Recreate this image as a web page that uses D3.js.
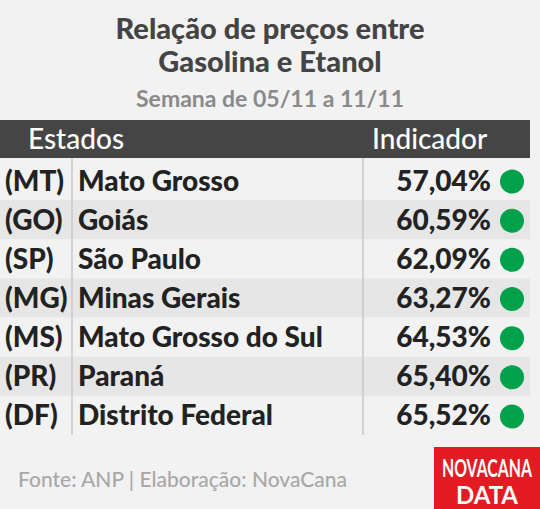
<!DOCTYPE html><html><head><meta charset="utf-8">
<script src="https://cdn.jsdelivr.net/npm/d3@7"></script>
<style>body{margin:0;background:#f2f2f2}svg{display:block}text{font-family:Lato,'Open Sans',sans-serif}</style></head><body>
<script>
const codes=["(MT)","(GO)","(SP)","(MG)","(MS)","(PR)","(DF)"];
const states=["Mato Grosso","Goiás","São Paulo","Minas Gerais","Mato Grosso do Sul","Paraná","Distrito Federal"];
const values=[57.04,60.59,62.09,63.27,64.53,65.40,65.52];
const W=540,H=509;
const svg=d3.select("body").append("svg").attr("width",W).attr("height",H);
svg.append("rect").attr("width",W).attr("height",H).attr("fill","#f2f2f2");
const y=d3.scaleBand().domain(d3.range(values.length)).range([161,435]);
svg.selectAll("rect.row").data(values).join("rect").attr("x",0).attr("width",530)
 .attr("y",(d,i)=>y(i)).attr("height",y.bandwidth()).attr("fill",(d,i)=>i%2?"#e6e6e6":"#f2f2f2");
svg.append("rect").attr("x",0).attr("y",120).attr("width",530).attr("height",38).attr("fill","#454545");
[72,363].forEach(x=>svg.append("line").attr("x1",x).attr("x2",x).attr("y1",158).attr("y2",435).attr("stroke","#c8c8c8").attr("stroke-width",1.5));
const t=(x,yy,s,size,fill,anchor="start",w=900)=>svg.append("text").attr("x",x).attr("y",yy).attr("font-size",size).attr("font-weight",w).attr("fill",fill).attr("text-anchor",anchor).text(s);
t(270,39,"Relação de preços entre",29,"#444","middle");
t(270,72,"Gasolina e Etanol",29,"#444","middle");
t(270,107,"Semana de 05/11 a 11/11",23,"#8a8a8a","middle",700);
t(28,149,"Estados",28,"#fff","start",500);
t(372,149,"Indicador",28,"#fff","start",500);
const fmt=v=>v.toFixed(2).replace(".",",")+"%";
values.forEach((v,i)=>{const cy=y(i)+y.bandwidth()/2+10;
 t(5,cy,codes[i],28,"#222");t(78,cy,states[i],28,"#222");t(491,cy,fmt(v),28,"#222","end");
 svg.append("circle").attr("cx",512).attr("cy",y(i)+y.bandwidth()/2+1).attr("r",12).attr("fill","#00a14b");});
t(18,487,"Fonte: ANP | Elaboração: NovaCana",21,"#a8a8a8","start",500);
svg.append("rect").attr("x",434).attr("y",447).attr("width",106).attr("height",62).attr("fill","#e31b23");
const lf="'Liberation Sans Narrow','DejaVu Sans Condensed',sans-serif";
svg.append("text").attr("x",442).attr("y",477).attr("font-size",24).attr("font-weight",700).attr("fill","#fff").attr("font-family",lf).attr("textLength",90).attr("lengthAdjust","spacingAndGlyphs").text("NOVACANA");
svg.append("text").attr("x",487).attr("y",504).attr("text-anchor","middle").attr("font-size",24).attr("font-weight",700).attr("fill","#fff").attr("font-family",lf).text("DATA");
</script></body></html>
